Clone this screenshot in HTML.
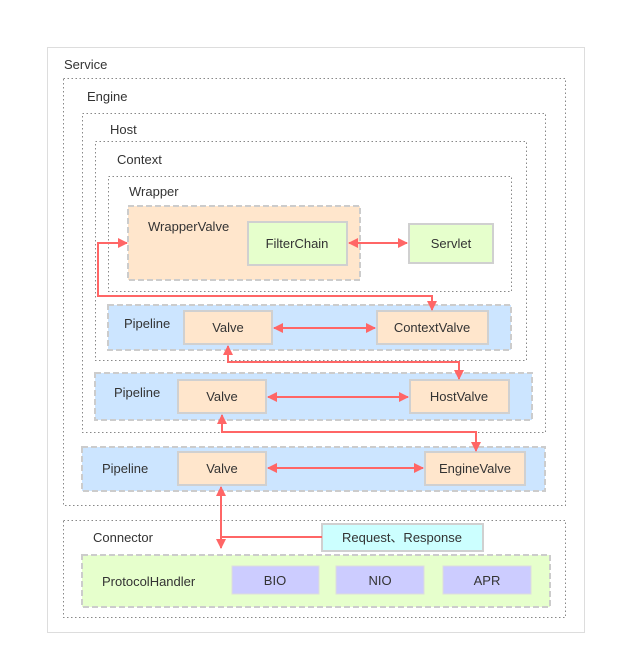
<!DOCTYPE html><html><head><style>body{margin:0;background:#fff}svg text{font-family:"Liberation Sans","Noto Sans CJK SC",sans-serif;font-size:13px;fill:#333}</style></head><body>
<svg width="617" height="665" xmlns="http://www.w3.org/2000/svg">
<defs><marker id="a" markerWidth="10" markerHeight="10" refX="9" refY="5" orient="auto-start-reverse" markerUnits="userSpaceOnUse"><path d="M0,0 L10,5 L0,10 z" fill="#f66"/></marker></defs>
<rect x="47.5" y="47.5" width="537" height="585" fill="#fff" stroke="#ddd"/>
<g fill="none" stroke="#888" stroke-dasharray="1.5,2.5">
<rect x="63.5" y="78.5" width="502" height="427"/>
<rect x="82.5" y="113.5" width="463" height="319"/>
<rect x="95.5" y="141.5" width="431" height="219"/>
<rect x="108.5" y="176.5" width="403" height="115"/>
<rect x="63.5" y="520.5" width="502" height="97"/>
</g>
<text x="64" y="69">Service</text><text x="87" y="101">Engine</text><text x="110" y="134">Host</text><text x="117" y="164">Context</text><text x="129" y="196">Wrapper</text><text x="93" y="542">Connector</text>
<g stroke="#ccc" stroke-width="2" stroke-dasharray="6,3">
<rect x="128" y="206" width="232" height="74" fill="#ffe6cc"/>
<rect x="108" y="305" width="403" height="45" fill="#cce5ff"/>
<rect x="95" y="373" width="437" height="47" fill="#cce5ff"/>
<rect x="82" y="447" width="463" height="44" fill="#cce5ff"/>
<rect x="82" y="555" width="468" height="52" fill="#e6ffcc"/>
</g>
<g stroke="#d0d0d0" stroke-width="2">
<rect x="248" y="222" width="99" height="43" fill="#e6ffcc"/>
<rect x="409" y="224" width="84" height="39" fill="#e6ffcc"/>
<rect x="184" y="311" width="88" height="33" fill="#ffe6cc"/>
<rect x="377" y="311" width="111" height="33" fill="#ffe6cc"/>
<rect x="178" y="380" width="88" height="33" fill="#ffe6cc"/>
<rect x="410" y="380" width="99" height="33" fill="#ffe6cc"/>
<rect x="178" y="452" width="88" height="33" fill="#ffe6cc"/>
<rect x="425" y="452" width="100" height="33" fill="#ffe6cc"/>
<rect x="322" y="524" width="161" height="27" fill="#ccffff"/>
</g>
<g fill="#ccccff" stroke="#ddd"><rect x="232" y="566" width="87" height="28"/><rect x="336" y="566" width="88" height="28"/><rect x="443" y="566" width="88" height="28"/></g>
<text x="148" y="231">WrapperValve</text>
<g text-anchor="middle">
<text x="297" y="248">FilterChain</text><text x="451" y="248">Servlet</text>
<text x="228" y="332">Valve</text><text x="432" y="332">ContextValve</text>
<text x="222" y="401">Valve</text><text x="459" y="401">HostValve</text>
<text x="222" y="473">Valve</text><text x="475" y="473">EngineValve</text>
<text x="402" y="542">Request、Response</text>
<text x="275" y="585">BIO</text><text x="380" y="585">NIO</text><text x="487" y="585">APR</text>
</g>
<text x="124" y="328">Pipeline</text><text x="114" y="397">Pipeline</text><text x="102" y="473">Pipeline</text><text x="102" y="586">ProtocolHandler</text>
<g stroke="#f66" stroke-width="2" fill="none">
<path d="M349,243 H407" marker-start="url(#a)" marker-end="url(#a)"/>
<path d="M432,310 V296 H98 V243 H127" marker-start="url(#a)" marker-end="url(#a)"/>
<path d="M274,328 H375" marker-start="url(#a)" marker-end="url(#a)"/>
<path d="M228,346 V362 H459 V379" marker-start="url(#a)" marker-end="url(#a)"/>
<path d="M268,397 H408" marker-start="url(#a)" marker-end="url(#a)"/>
<path d="M222,415 V432 H476 V451" marker-start="url(#a)" marker-end="url(#a)"/>
<path d="M268,468 H423" marker-start="url(#a)" marker-end="url(#a)"/>
<path d="M221,487 V548" marker-start="url(#a)" marker-end="url(#a)"/>
<path d="M221,537 H322"/>
</g>
</svg></body></html>
